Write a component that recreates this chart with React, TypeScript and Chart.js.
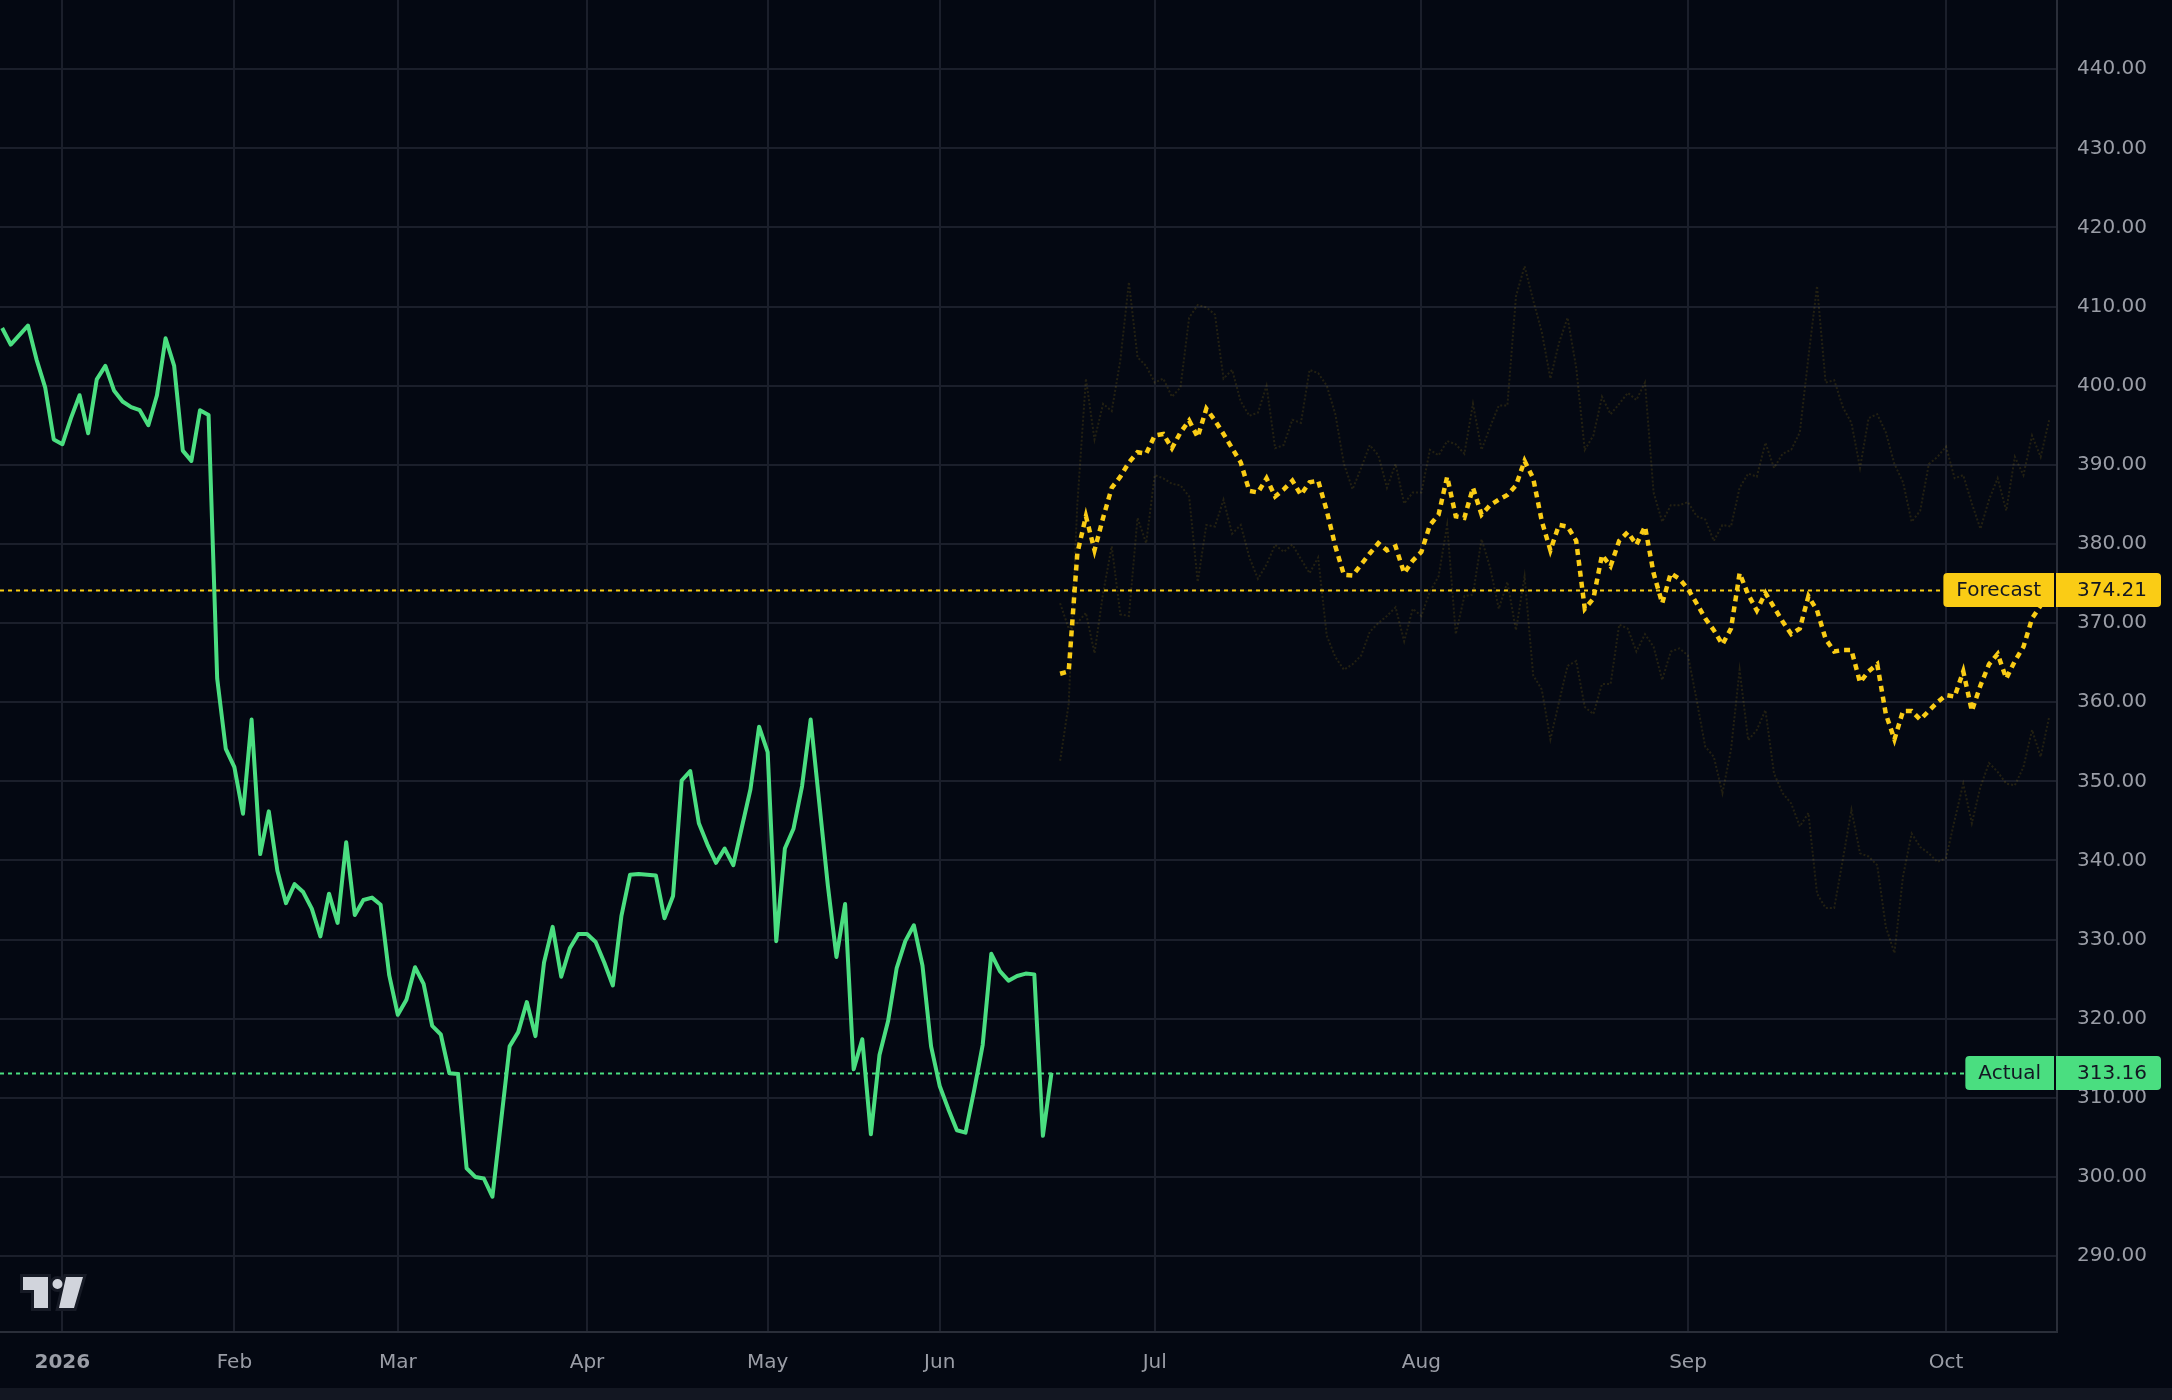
import { useEffect, useRef } from 'react';
import { Chart, registerables } from 'chart.js';

Chart.register(...registerables);

// ---------- data ----------
const monthTickIndex = [7, 27, 46, 68, 89, 109, 134, 165, 196, 226];
const monthTickLabels = ['2026', 'Feb', 'Mar', 'Apr', 'May', 'Jun', 'Jul', 'Aug', 'Sep', 'Oct'];
const priceTicks = [290, 300, 310, 320, 330, 340, 350, 360, 370, 380, 390, 400, 410, 420, 430, 440];

const actualStart = 0;
const actualValues = [
  407.3, 405.2, 406.4, 407.6, 403.3, 399.8, 393.2, 392.6, 395.9, 398.8,
  394.0, 400.8, 402.5, 399.4, 398.0, 397.3, 396.9, 395.0, 398.8, 406.0,
  402.5, 391.8, 390.5, 396.9, 396.3, 363.0, 354.1, 351.8, 345.9, 357.8,
  340.8, 346.2, 338.7, 334.6, 337.0, 336.0, 333.9, 330.4, 335.8, 332.1,
  342.3, 333.1, 335.0, 335.3, 334.4, 325.5, 320.5, 322.4, 326.5, 324.4,
  319.1, 318.0, 313.1, 313.0, 301.1, 300.0, 299.8, 297.5, 307.0, 316.5,
  318.3, 322.1, 317.8, 327.1, 331.6, 325.3, 328.9, 330.7, 330.7, 329.7,
  327.1, 324.2, 333.0, 338.2, 338.3, 338.2, 338.1, 332.7, 335.5, 350.1,
  351.3, 344.7, 342.0, 339.7, 341.5, 339.4, 344.2, 349.0, 356.9, 353.7,
  329.8, 341.5, 344.0, 349.4, 357.8, 347.3, 336.8, 327.8, 334.5, 313.6,
  317.4, 305.4, 315.4, 319.7, 326.4, 329.8, 331.8, 326.7, 316.5, 311.5,
  308.6, 305.9, 305.6, 310.9, 316.7, 328.2, 326.0, 324.8, 325.4, 325.7,
  325.6, 305.2, 313.16,
];

const forecastStart = 123;
const forecastValues = [
  363.6, 363.9, 378.8, 383.5, 379.2, 383.3, 387.1,
  388.5, 390.3, 391.6, 391.4, 393.7, 393.9, 392.1, 394.1, 395.6, 393.5,
  397.1, 395.6, 393.9, 392.1, 390.3, 386.7, 386.5, 388.3, 386.0, 386.9,
  388.0, 386.2, 387.8, 388.0, 384.2, 379.7, 376.1, 376.0, 377.4, 378.8,
  380.1, 379.2, 379.7, 376.3, 377.9, 379.0, 382.4, 383.7, 388.5, 383.5,
  383.3, 387.1, 383.7, 384.9, 385.6, 386.2, 387.4, 390.5, 388.3, 382.9,
  379.2, 382.4, 382.2, 380.4, 371.8, 373.1, 378.6, 377.2, 380.4, 381.5,
  379.9, 382.2, 376.3, 372.5, 376.3, 375.6, 374.3, 372.5, 370.6, 369.1,
  367.3, 369.3, 376.3, 373.6, 371.6, 373.8, 372.0, 370.2, 368.6, 369.3,
  373.4, 371.6, 368.0, 366.4, 366.6, 366.6, 362.5, 363.9, 364.8, 358.5,
  355.3, 358.9, 358.9, 357.8, 358.9, 360.0, 360.9, 360.7, 363.9, 358.9,
  362.1, 364.8, 366.1, 363.0, 365.2, 367.0, 370.6, 372.2, 374.21,
];

const upperValues = [
  352.6, 359.8, 385.0, 400.9, 393.2, 397.7, 396.8,
  403.2, 413.1, 403.6, 402.5, 400.4, 400.9, 398.6, 399.8, 408.6, 410.2,
  409.9, 409.0, 400.9, 402.0, 398.0, 396.2, 396.6, 400.0, 392.1, 392.5,
  395.7, 395.3, 402.0, 401.6, 400.0, 396.4, 390.1, 386.9, 389.6, 392.5,
  391.2, 387.1, 390.1, 385.1, 386.5, 386.5, 391.9, 391.2, 393.0, 392.6,
  391.4, 397.7, 391.9, 394.8, 397.5, 397.5, 411.3, 415.1, 410.8, 406.8,
  400.9, 405.4, 408.6, 402.3, 391.9, 393.7, 398.6, 396.4, 397.7, 399.1,
  398.2, 400.4, 386.5, 382.8, 384.9, 384.9, 385.3, 383.5, 383.1, 380.4,
  382.4, 382.2, 387.1, 388.9, 388.5, 392.8, 389.6, 391.4, 391.9, 394.1,
  403.6, 412.6, 400.4, 400.7, 397.3, 395.3, 389.6, 395.9, 396.4, 394.1,
  390.1, 387.8, 382.8, 384.2, 390.1, 391.0, 392.3, 388.3, 388.7, 385.1,
  381.9, 385.6, 388.3, 384.2, 391.0, 388.7, 393.7, 391.0, 395.7,
];

const lowerValues = [
  372.5, 369.3, 370.0, 371.3, 366.2, 373.8, 379.7,
  371.1, 370.9, 383.3, 380.1, 388.7, 388.3, 387.6, 387.4, 386.0, 375.2,
  382.4, 382.2, 385.6, 381.3, 382.4, 378.3, 375.6, 377.4, 379.9, 379.0,
  379.9, 378.1, 376.3, 378.3, 368.4, 365.7, 364.1, 364.8, 365.9, 368.9,
  370.0, 370.9, 372.0, 367.7, 371.8, 370.9, 374.0, 375.9, 382.4, 368.6,
  373.4, 373.6, 380.6, 377.0, 371.8, 375.2, 369.1, 375.9, 363.4, 361.6,
  355.3, 360.0, 364.6, 365.2, 359.4, 358.5, 362.3, 362.3, 369.8, 369.3,
  366.4, 368.6, 367.0, 362.8, 366.4, 366.8, 365.9, 360.3, 354.4, 353.1,
  348.5, 354.0, 364.1, 355.2, 356.5, 359.0, 351.0, 348.5, 347.2, 344.3,
  346.0, 335.8, 334.0, 334.0, 340.1, 346.4, 340.9, 340.5, 339.4, 331.6,
  328.3, 338.0, 343.4, 341.7, 340.9, 339.8, 340.3, 345.1, 349.7, 344.7,
  349.3, 352.3, 351.2, 349.7, 349.5, 351.8, 356.5, 353.1, 358.2,
];

const forecastLabel = 'Forecast';
const forecastLast = 374.21;
const actualLabel = 'Actual';
const actualLast = 313.16;

// ---------- styles ----------
const BG = '#040812';
const BOTTOM_BAND = '#131722';
const GRID = '#1b1f2b';
const AXIS = '#2a2e39';
const TEXT = '#9a9da6';
const GREEN = '#4ade80';
const YELLOW = '#facc15';
const FAINT = 'rgba(250, 204, 21, 0.13)';
const FONT = 'DejaVu Sans';

const toPoints = (start: number, values: number[]) =>
  values.map((v, i) => ({ x: start + i, y: v }));

const bgPlugin = {
  id: 'bg',
  beforeDraw(chart: any) {
    const c = chart.ctx;
    c.save();
    c.fillStyle = BG;
    c.fillRect(0, 0, chart.width, chart.height);
    c.fillStyle = BOTTOM_BAND;
    c.fillRect(0, chart.height - 12, chart.width, 12);
    c.restore();
  },
};

const priceLines = [
  { label: forecastLabel, value: forecastLast, color: YELLOW },
  { label: actualLabel, value: actualLast, color: GREEN },
];

const pricePlugin = {
  id: 'priceLines',
  beforeDatasetsDraw(chart: any) {
    const c = chart.ctx;
    const { left, right } = chart.chartArea;
    c.save();
    for (const p of priceLines) {
      const y = Math.round(chart.scales.y.getPixelForValue(p.value)) + 0.5;
      c.strokeStyle = p.color;
      c.lineWidth = 2;
      c.setLineDash([4, 4]);
      c.beginPath();
      c.moveTo(left, y);
      c.lineTo(right, y);
      c.stroke();
    }
    c.restore();
  },
  afterDraw(chart: any) {
    const c = chart.ctx;
    const { right } = chart.chartArea;
    c.save();
    c.font = `20px "${FONT}"`;
    c.textBaseline = 'middle';
    for (const p of priceLines) {
      const y = Math.round(chart.scales.y.getPixelForValue(p.value));
      const tw = c.measureText(p.label).width;
      const boxRight = right - 3;
      const boxLeft = boxRight - tw - 26;
      c.fillStyle = p.color;
      c.beginPath();
      c.roundRect(boxLeft, y - 17, boxRight - boxLeft, 34, [4, 0, 0, 4]);
      c.fill();
      c.beginPath();
      c.roundRect(right - 1, y - 17, chart.width - 11 - (right - 1), 34, [0, 4, 4, 0]);
      c.fill();
      c.fillStyle = '#131722';
      c.textAlign = 'left';
      c.fillText(p.label, boxLeft + 13, y + 1);
      c.fillText(p.value.toFixed(2), right + 20, y + 1);
    }
    c.restore();
  },
};

const logoPlugin = {
  id: 'logo',
  afterDraw(chart: any) {
    const c = chart.ctx;
    c.save();
    const shapes = () => {
      c.beginPath();
      c.moveTo(23, 1277);
      c.lineTo(48, 1277);
      c.lineTo(48, 1308);
      c.lineTo(34, 1308);
      c.lineTo(34, 1290);
      c.lineTo(23, 1290);
      c.closePath();
      c.moveTo(66, 1277);
      c.lineTo(83, 1277);
      c.lineTo(74, 1308);
      c.lineTo(59, 1308);
      c.closePath();
      c.moveTo(62.5, 1284);
      c.arc(57.5, 1284, 5, 0, Math.PI * 2);
    };
    c.lineJoin = 'miter';
    c.strokeStyle = '#161a25';
    c.lineWidth = 6;
    shapes();
    c.stroke();
    c.fillStyle = '#d1d4dc';
    shapes();
    c.fill();
    c.restore();
  },
};

export default function App() {
  const ref = useRef<HTMLCanvasElement>(null);

  useEffect(() => {
    const canvas = ref.current;
    if (!canvas) return;
    Chart.defaults.font.family = FONT;
    const chart = new Chart(canvas, {
      type: 'line',
      data: {
        datasets: [
          {
            label: 'Actual',
            data: toPoints(actualStart, actualValues),
            borderColor: GREEN,
            borderWidth: 4,
            pointRadius: 0,
            tension: 0,
            borderJoinStyle: 'round',
          },
          {
            label: 'Forecast',
            data: toPoints(forecastStart, forecastValues),
            borderColor: YELLOW,
            borderWidth: 4.5,
            borderDash: [6, 5],
            pointRadius: 0,
            tension: 0,
          },
          {
            label: 'Upper',
            data: toPoints(forecastStart, upperValues),
            borderColor: FAINT,
            borderWidth: 2,
            borderDash: [2, 2],
            pointRadius: 0,
            tension: 0,
          },
          {
            label: 'Lower',
            data: toPoints(forecastStart, lowerValues),
            borderColor: FAINT,
            borderWidth: 2,
            borderDash: [2, 2],
            pointRadius: 0,
            tension: 0,
          },
        ],
      },
      options: {
        animation: false,
        responsive: false,
        devicePixelRatio: 1,
        layout: { padding: 0 },
        plugins: {
          legend: { display: false },
          tooltip: { enabled: false },
        },
        scales: {
          x: {
            type: 'linear',
            min: -0.25,
            max: 238.9,
            afterBuildTicks: (s: any) => {
              s.ticks = monthTickIndex.map((v) => ({ value: v }));
            },
            afterFit: (s: any) => {
              s.height = 68;
              s.paddingLeft = 0;
              s.paddingRight = 0;
            },
            ticks: {
              autoSkip: false,
              maxRotation: 0,
              minRotation: 0,
              padding: 19,
              color: TEXT,
              callback: (_v: any, i: number) => monthTickLabels[i] ?? '',
              font: (ctx: any) => ({
                family: FONT,
                size: 20,
                weight: ctx.index === 0 ? 'bold' : 'normal',
              }),
            },
            grid: { color: GRID, lineWidth: 2, drawTicks: false },
            border: { color: AXIS, width: 2 },
          },
          y: {
            position: 'right',
            min: 280.4,
            max: 448.75,
            afterBuildTicks: (s: any) => {
              s.ticks = priceTicks.map((v) => ({ value: v }));
            },
            afterFit: (s: any) => {
              s.width = 115;
              s.paddingTop = 0;
              s.paddingBottom = 0;
            },
            ticks: {
              padding: 20,
              crossAlign: 'near',
              color: TEXT,
              font: { family: FONT, size: 20 },
              callback: (v: any) => Number(v).toFixed(2),
            },
            grid: { color: GRID, lineWidth: 2, drawTicks: false },
            border: { color: AXIS, width: 2 },
          },
        },
      } as any,
      plugins: [bgPlugin, pricePlugin, logoPlugin],
    });
    return () => chart.destroy();
  }, []);

  return (
    <div
      style={{
        position: 'absolute',
        left: 0,
        top: 0,
        width: 2172,
        height: 1400,
        background: BG,
      }}
    >
      <canvas ref={ref} width={2172} height={1400} style={{ display: 'block' }} />
    </div>
  );
}
